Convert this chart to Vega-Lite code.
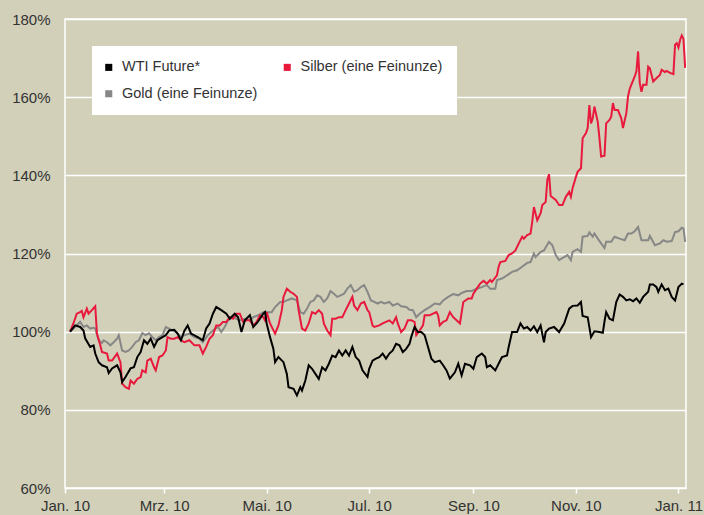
{
  "$schema": "https://vega.github.io/schema/vega-lite/v6.json",
  "width": 621,
  "height": 469,
  "autosize": {"type": "none"},
  "padding": {"left": 65, "top": 19, "right": 18, "bottom": 27},
  "background": "#d2d0b9",
  "view": {"stroke": "#ffffff", "strokeWidth": 1.5},
  "config": {"font": "Liberation Sans"},
  "datasets": {
    "gold": [
      {"d":"2010-01-04","v":100},{"d":"2010-01-07","v":101.2},{"d":"2010-01-09","v":102.1},{"d":"2010-01-10","v":102.5},{"d":"2010-01-12","v":101.2},{"d":"2010-01-14","v":101.6},{"d":"2010-01-16","v":100.8},{"d":"2010-01-18","v":101.0},{"d":"2010-01-19","v":100.8},{"d":"2010-01-21","v":97.8},{"d":"2010-01-23","v":97.1},{"d":"2010-01-24","v":97.8},{"d":"2010-01-26","v":97.3},{"d":"2010-01-28","v":96.5},{"d":"2010-01-30","v":97.3},{"d":"2010-02-01","v":98.2},{"d":"2010-02-02","v":99.1},{"d":"2010-02-04","v":95.2},{"d":"2010-02-06","v":94.8},{"d":"2010-02-08","v":95.2},{"d":"2010-02-10","v":96.1},{"d":"2010-02-12","v":97.3},{"d":"2010-02-14","v":97.8},{"d":"2010-02-16","v":99.6},{"d":"2010-02-18","v":99.1},{"d":"2010-02-20","v":99.6},{"d":"2010-02-22","v":98.6},{"d":"2010-02-24","v":97.8},{"d":"2010-02-26","v":98.6},{"d":"2010-02-28","v":99.1},{"d":"2010-03-02","v":101.2},{"d":"2010-03-04","v":100.8},{"d":"2010-03-06","v":100.3},{"d":"2010-03-08","v":99.9},{"d":"2010-03-11","v":98.6},{"d":"2010-03-13","v":99.1},{"d":"2010-03-16","v":99.5},{"d":"2010-03-19","v":98.6},{"d":"2010-03-22","v":98.2},{"d":"2010-03-24","v":97.3},{"d":"2010-03-27","v":99.1},{"d":"2010-03-30","v":100.3},{"d":"2010-04-02","v":101.2},{"d":"2010-04-04","v":99.9},{"d":"2010-04-06","v":101.2},{"d":"2010-04-08","v":102.9},{"d":"2010-04-11","v":103.7},{"d":"2010-04-13","v":103.3},{"d":"2010-04-15","v":102.9},{"d":"2010-04-18","v":103.3},{"d":"2010-04-21","v":102.9},{"d":"2010-04-23","v":103.7},{"d":"2010-04-26","v":104.2},{"d":"2010-04-29","v":105.0},{"d":"2010-05-02","v":105.0},{"d":"2010-05-04","v":105.0},{"d":"2010-05-06","v":106.3},{"d":"2010-05-09","v":107.6},{"d":"2010-05-11","v":107.6},{"d":"2010-05-13","v":108.0},{"d":"2010-05-16","v":108.5},{"d":"2010-05-19","v":108.0},{"d":"2010-05-21","v":105.0},{"d":"2010-05-23","v":104.6},{"d":"2010-05-25","v":105.9},{"d":"2010-05-27","v":107.6},{"d":"2010-05-29","v":108.0},{"d":"2010-05-31","v":109.3},{"d":"2010-06-02","v":108.9},{"d":"2010-06-04","v":107.6},{"d":"2010-06-06","v":108.5},{"d":"2010-06-08","v":110.4},{"d":"2010-06-10","v":109.7},{"d":"2010-06-12","v":108.9},{"d":"2010-06-14","v":109.3},{"d":"2010-06-16","v":109.7},{"d":"2010-06-18","v":111.0},{"d":"2010-06-20","v":111.9},{"d":"2010-06-22","v":110.2},{"d":"2010-06-24","v":110.6},{"d":"2010-06-26","v":111.4},{"d":"2010-06-28","v":111.9},{"d":"2010-06-30","v":110.2},{"d":"2010-07-02","v":108.0},{"d":"2010-07-04","v":107.6},{"d":"2010-07-06","v":107.2},{"d":"2010-07-08","v":107.6},{"d":"2010-07-10","v":107.2},{"d":"2010-07-13","v":107.6},{"d":"2010-07-15","v":106.7},{"d":"2010-07-18","v":107.2},{"d":"2010-07-20","v":106.5},{"d":"2010-07-23","v":106.3},{"d":"2010-07-25","v":105.6},{"d":"2010-07-27","v":105.5},{"d":"2010-07-29","v":103.7},{"d":"2010-07-31","v":104.6},{"d":"2010-08-03","v":105.5},{"d":"2010-08-06","v":106.3},{"d":"2010-08-09","v":107.2},{"d":"2010-08-12","v":107.0},{"d":"2010-08-14","v":108.0},{"d":"2010-08-17","v":108.9},{"d":"2010-08-20","v":109.6},{"d":"2010-08-23","v":109.3},{"d":"2010-08-25","v":109.9},{"d":"2010-08-28","v":110.4},{"d":"2010-08-31","v":110.4},{"d":"2010-09-03","v":111.0},{"d":"2010-09-06","v":111.4},{"d":"2010-09-09","v":111.9},{"d":"2010-09-11","v":111.0},{"d":"2010-09-14","v":111.0},{"d":"2010-09-15","v":113.2},{"d":"2010-09-18","v":113.6},{"d":"2010-09-21","v":114.4},{"d":"2010-09-24","v":115.3},{"d":"2010-09-27","v":115.7},{"d":"2010-09-30","v":116.6},{"d":"2010-10-03","v":117.6},{"d":"2010-10-05","v":117.8},{"d":"2010-10-07","v":120.0},{"d":"2010-10-08","v":119.1},{"d":"2010-10-11","v":120.4},{"d":"2010-10-13","v":120.8},{"d":"2010-10-16","v":123.0},{"d":"2010-10-18","v":122.1},{"d":"2010-10-20","v":119.6},{"d":"2010-10-22","v":118.3},{"d":"2010-10-25","v":119.1},{"d":"2010-10-27","v":119.6},{"d":"2010-10-29","v":118.3},{"d":"2010-10-30","v":120.4},{"d":"2010-11-02","v":121.1},{"d":"2010-11-04","v":120.4},{"d":"2010-11-05","v":124.3},{"d":"2010-11-08","v":124.5},{"d":"2010-11-09","v":125.4},{"d":"2010-11-11","v":124.3},{"d":"2010-11-12","v":125.1},{"d":"2010-11-14","v":123.8},{"d":"2010-11-16","v":122.6},{"d":"2010-11-18","v":121.4},{"d":"2010-11-19","v":123.0},{"d":"2010-11-22","v":123.0},{"d":"2010-11-24","v":124.3},{"d":"2010-11-27","v":123.8},{"d":"2010-11-30","v":123.4},{"d":"2010-12-02","v":125.1},{"d":"2010-12-04","v":125.1},{"d":"2010-12-06","v":125.7},{"d":"2010-12-08","v":126.8},{"d":"2010-12-10","v":123.4},{"d":"2010-12-12","v":123.4},{"d":"2010-12-14","v":123.4},{"d":"2010-12-15","v":124.5},{"d":"2010-12-18","v":122.1},{"d":"2010-12-21","v":122.6},{"d":"2010-12-23","v":123.4},{"d":"2010-12-25","v":123.0},{"d":"2010-12-28","v":123.2},{"d":"2010-12-30","v":125.5},{"d":"2011-01-01","v":125.7},{"d":"2011-01-03","v":126.6},{"d":"2011-01-04","v":126.4},{"d":"2011-01-05","v":123.0}
    ],
    "silber": [
      {"d":"2010-01-04","v":100},{"d":"2010-01-06","v":102.1},{"d":"2010-01-08","v":104.6},{"d":"2010-01-10","v":105.0},{"d":"2010-01-11","v":105.3},{"d":"2010-01-12","v":103.7},{"d":"2010-01-14","v":105.9},{"d":"2010-01-15","v":104.6},{"d":"2010-01-17","v":105.5},{"d":"2010-01-19","v":106.5},{"d":"2010-01-20","v":99.5},{"d":"2010-01-22","v":96.5},{"d":"2010-01-23","v":94.8},{"d":"2010-01-26","v":94.4},{"d":"2010-01-27","v":92.6},{"d":"2010-01-29","v":92.6},{"d":"2010-02-01","v":94.4},{"d":"2010-02-03","v":92.2},{"d":"2010-02-04","v":86.7},{"d":"2010-02-06","v":85.8},{"d":"2010-02-08","v":85.4},{"d":"2010-02-09","v":87.5},{"d":"2010-02-11","v":86.7},{"d":"2010-02-13","v":87.9},{"d":"2010-02-15","v":88.4},{"d":"2010-02-16","v":90.1},{"d":"2010-02-18","v":89.6},{"d":"2010-02-19","v":92.6},{"d":"2010-02-21","v":93.1},{"d":"2010-02-23","v":90.9},{"d":"2010-02-24","v":90.1},{"d":"2010-02-26","v":93.5},{"d":"2010-02-28","v":93.9},{"d":"2010-03-02","v":95.2},{"d":"2010-03-03","v":98.6},{"d":"2010-03-05","v":98.2},{"d":"2010-03-07","v":98.2},{"d":"2010-03-09","v":98.6},{"d":"2010-03-11","v":97.8},{"d":"2010-03-13","v":97.3},{"d":"2010-03-16","v":97.8},{"d":"2010-03-19","v":96.5},{"d":"2010-03-22","v":96.5},{"d":"2010-03-24","v":94.4},{"d":"2010-03-26","v":96.1},{"d":"2010-03-28","v":98.2},{"d":"2010-03-30","v":99.1},{"d":"2010-04-01","v":101.6},{"d":"2010-04-03","v":101.6},{"d":"2010-04-05","v":102.5},{"d":"2010-04-07","v":102.5},{"d":"2010-04-09","v":103.7},{"d":"2010-04-11","v":103.3},{"d":"2010-04-13","v":104.6},{"d":"2010-04-15","v":104.6},{"d":"2010-04-17","v":102.5},{"d":"2010-04-19","v":102.9},{"d":"2010-04-21","v":102.9},{"d":"2010-04-23","v":101.6},{"d":"2010-04-25","v":102.5},{"d":"2010-04-27","v":104.2},{"d":"2010-04-29","v":103.7},{"d":"2010-04-30","v":102.9},{"d":"2010-05-01","v":105.0},{"d":"2010-05-03","v":102.1},{"d":"2010-05-06","v":99.5},{"d":"2010-05-08","v":101.6},{"d":"2010-05-10","v":105.5},{"d":"2010-05-11","v":108.9},{"d":"2010-05-13","v":111.0},{"d":"2010-05-15","v":110.2},{"d":"2010-05-17","v":109.7},{"d":"2010-05-19","v":108.9},{"d":"2010-05-20","v":105.5},{"d":"2010-05-22","v":100.8},{"d":"2010-05-24","v":100.3},{"d":"2010-05-26","v":102.1},{"d":"2010-05-28","v":105.0},{"d":"2010-05-30","v":104.6},{"d":"2010-06-01","v":105.5},{"d":"2010-06-03","v":104.6},{"d":"2010-06-04","v":102.1},{"d":"2010-06-06","v":100.3},{"d":"2010-06-08","v":99.1},{"d":"2010-06-09","v":103.3},{"d":"2010-06-11","v":103.3},{"d":"2010-06-13","v":103.7},{"d":"2010-06-15","v":103.7},{"d":"2010-06-17","v":105.5},{"d":"2010-06-19","v":107.2},{"d":"2010-06-21","v":108.9},{"d":"2010-06-22","v":106.7},{"d":"2010-06-24","v":105.5},{"d":"2010-06-26","v":107.2},{"d":"2010-06-28","v":107.6},{"d":"2010-06-30","v":105.5},{"d":"2010-07-01","v":105.0},{"d":"2010-07-03","v":101.6},{"d":"2010-07-04","v":101.2},{"d":"2010-07-07","v":101.6},{"d":"2010-07-09","v":102.1},{"d":"2010-07-11","v":102.5},{"d":"2010-07-13","v":102.9},{"d":"2010-07-15","v":102.1},{"d":"2010-07-17","v":103.7},{"d":"2010-07-18","v":102.1},{"d":"2010-07-20","v":99.9},{"d":"2010-07-22","v":100.8},{"d":"2010-07-24","v":102.9},{"d":"2010-07-26","v":102.9},{"d":"2010-07-28","v":102.5},{"d":"2010-07-29","v":99.1},{"d":"2010-07-31","v":100.3},{"d":"2010-08-02","v":101.6},{"d":"2010-08-03","v":104.2},{"d":"2010-08-06","v":104.2},{"d":"2010-08-08","v":104.6},{"d":"2010-08-10","v":105.0},{"d":"2010-08-11","v":104.2},{"d":"2010-08-12","v":101.6},{"d":"2010-08-14","v":102.5},{"d":"2010-08-16","v":102.9},{"d":"2010-08-18","v":105.0},{"d":"2010-08-20","v":103.7},{"d":"2010-08-22","v":102.9},{"d":"2010-08-24","v":102.1},{"d":"2010-08-26","v":107.6},{"d":"2010-08-29","v":108.5},{"d":"2010-08-31","v":108.5},{"d":"2010-09-01","v":109.7},{"d":"2010-09-03","v":111.0},{"d":"2010-09-05","v":112.3},{"d":"2010-09-07","v":113.0},{"d":"2010-09-09","v":112.3},{"d":"2010-09-11","v":113.2},{"d":"2010-09-12","v":112.7},{"d":"2010-09-15","v":114.4},{"d":"2010-09-16","v":116.6},{"d":"2010-09-17","v":117.8},{"d":"2010-09-20","v":118.1},{"d":"2010-09-22","v":119.6},{"d":"2010-09-24","v":120.0},{"d":"2010-09-26","v":120.8},{"d":"2010-09-28","v":122.6},{"d":"2010-09-30","v":124.3},{"d":"2010-10-01","v":123.8},{"d":"2010-10-03","v":124.7},{"d":"2010-10-05","v":125.1},{"d":"2010-10-06","v":128.1},{"d":"2010-10-07","v":131.9},{"d":"2010-10-09","v":128.5},{"d":"2010-10-11","v":130.3},{"d":"2010-10-12","v":132.4},{"d":"2010-10-14","v":133.2},{"d":"2010-10-15","v":138.8},{"d":"2010-10-16","v":140.3},{"d":"2010-10-17","v":134.7},{"d":"2010-10-20","v":133.7},{"d":"2010-10-22","v":132.4},{"d":"2010-10-24","v":132.4},{"d":"2010-10-26","v":134.5},{"d":"2010-10-28","v":135.8},{"d":"2010-10-29","v":134.5},{"d":"2010-10-30","v":136.7},{"d":"2010-11-01","v":139.6},{"d":"2010-11-02","v":140.9},{"d":"2010-11-04","v":141.8},{"d":"2010-11-05","v":149.5},{"d":"2010-11-07","v":150.8},{"d":"2010-11-08","v":152.1},{"d":"2010-11-09","v":158.0},{"d":"2010-11-10","v":153.3},{"d":"2010-11-11","v":154.6},{"d":"2010-11-12","v":157.6},{"d":"2010-11-14","v":153.7},{"d":"2010-11-15","v":149.5},{"d":"2010-11-16","v":144.8},{"d":"2010-11-18","v":145.0},{"d":"2010-11-19","v":153.3},{"d":"2010-11-21","v":154.2},{"d":"2010-11-22","v":155.0},{"d":"2010-11-23","v":158.5},{"d":"2010-11-24","v":156.7},{"d":"2010-11-26","v":156.7},{"d":"2010-11-28","v":154.6},{"d":"2010-11-29","v":152.1},{"d":"2010-12-01","v":155.9},{"d":"2010-12-02","v":160.2},{"d":"2010-12-03","v":162.1},{"d":"2010-12-04","v":163.2},{"d":"2010-12-06","v":165.3},{"d":"2010-12-07","v":166.6},{"d":"2010-12-08","v":171.7},{"d":"2010-12-09","v":163.6},{"d":"2010-12-10","v":161.4},{"d":"2010-12-11","v":163.2},{"d":"2010-12-13","v":163.2},{"d":"2010-12-14","v":167.8},{"d":"2010-12-15","v":167.4},{"d":"2010-12-17","v":164.0},{"d":"2010-12-19","v":164.9},{"d":"2010-12-21","v":165.7},{"d":"2010-12-22","v":167.0},{"d":"2010-12-24","v":166.4},{"d":"2010-12-25","v":166.7},{"d":"2010-12-27","v":166.2},{"d":"2010-12-29","v":165.9},{"d":"2010-12-30","v":173.4},{"d":"2010-12-31","v":173.8},{"d":"2011-01-01","v":172.7},{"d":"2011-01-02","v":174.7},{"d":"2011-01-03","v":175.8},{"d":"2011-01-04","v":174.9},{"d":"2011-01-05","v":167.5}
    ],
    "wti": [
      {"d":"2010-01-04","v":100},{"d":"2010-01-07","v":101.6},{"d":"2010-01-10","v":101.2},{"d":"2010-01-12","v":100.3},{"d":"2010-01-13","v":98.3},{"d":"2010-01-16","v":96.1},{"d":"2010-01-18","v":96.5},{"d":"2010-01-19","v":94.4},{"d":"2010-01-21","v":92.2},{"d":"2010-01-23","v":91.4},{"d":"2010-01-26","v":90.9},{"d":"2010-01-27","v":89.4},{"d":"2010-01-29","v":90.6},{"d":"2010-02-01","v":91.4},{"d":"2010-02-03","v":89.6},{"d":"2010-02-04","v":87.1},{"d":"2010-02-06","v":88.4},{"d":"2010-02-09","v":90.6},{"d":"2010-02-11","v":90.9},{"d":"2010-02-13","v":93.5},{"d":"2010-02-15","v":94.8},{"d":"2010-02-17","v":97.8},{"d":"2010-02-19","v":96.9},{"d":"2010-02-21","v":98.2},{"d":"2010-02-23","v":96.1},{"d":"2010-02-25","v":97.8},{"d":"2010-02-28","v":98.6},{"d":"2010-03-02","v":99.1},{"d":"2010-03-04","v":100.3},{"d":"2010-03-07","v":100.5},{"d":"2010-03-09","v":99.5},{"d":"2010-03-11","v":97.8},{"d":"2010-03-13","v":100.2},{"d":"2010-03-15","v":101.6},{"d":"2010-03-17","v":99.5},{"d":"2010-03-21","v":98.6},{"d":"2010-03-24","v":97.8},{"d":"2010-03-26","v":100.8},{"d":"2010-03-28","v":102.1},{"d":"2010-03-30","v":104.6},{"d":"2010-04-01","v":106.3},{"d":"2010-04-04","v":105.5},{"d":"2010-04-07","v":104.6},{"d":"2010-04-09","v":103.3},{"d":"2010-04-12","v":104.6},{"d":"2010-04-14","v":103.7},{"d":"2010-04-16","v":99.9},{"d":"2010-04-18","v":102.9},{"d":"2010-04-21","v":104.2},{"d":"2010-04-23","v":101.2},{"d":"2010-04-25","v":102.1},{"d":"2010-04-27","v":103.3},{"d":"2010-04-29","v":104.6},{"d":"2010-04-30","v":105.0},{"d":"2010-05-01","v":102.1},{"d":"2010-05-03","v":98.6},{"d":"2010-05-05","v":95.6},{"d":"2010-05-06","v":92.2},{"d":"2010-05-08","v":93.5},{"d":"2010-05-11","v":92.2},{"d":"2010-05-13","v":89.2},{"d":"2010-05-14","v":85.8},{"d":"2010-05-17","v":85.4},{"d":"2010-05-19","v":83.7},{"d":"2010-05-21","v":85.8},{"d":"2010-05-22","v":84.9},{"d":"2010-05-24","v":87.5},{"d":"2010-05-26","v":91.4},{"d":"2010-05-28","v":90.5},{"d":"2010-05-30","v":89.2},{"d":"2010-06-01","v":87.9},{"d":"2010-06-03","v":90.9},{"d":"2010-06-05","v":90.1},{"d":"2010-06-07","v":91.8},{"d":"2010-06-09","v":93.9},{"d":"2010-06-11","v":93.5},{"d":"2010-06-13","v":95.2},{"d":"2010-06-15","v":93.9},{"d":"2010-06-17","v":95.2},{"d":"2010-06-19","v":93.9},{"d":"2010-06-21","v":96.1},{"d":"2010-06-23","v":93.5},{"d":"2010-06-25","v":92.6},{"d":"2010-06-27","v":90.1},{"d":"2010-06-30","v":88.4},{"d":"2010-07-01","v":90.5},{"d":"2010-07-03","v":92.6},{"d":"2010-07-05","v":93.1},{"d":"2010-07-07","v":93.5},{"d":"2010-07-09","v":94.4},{"d":"2010-07-11","v":93.1},{"d":"2010-07-13","v":94.4},{"d":"2010-07-15","v":95.2},{"d":"2010-07-17","v":96.9},{"d":"2010-07-19","v":96.5},{"d":"2010-07-21","v":94.8},{"d":"2010-07-23","v":95.6},{"d":"2010-07-25","v":96.9},{"d":"2010-07-26","v":98.6},{"d":"2010-07-28","v":101.2},{"d":"2010-07-30","v":99.9},{"d":"2010-08-01","v":99.9},{"d":"2010-08-03","v":99.1},{"d":"2010-08-05","v":96.1},{"d":"2010-08-07","v":93.1},{"d":"2010-08-09","v":92.2},{"d":"2010-08-12","v":92.6},{"d":"2010-08-14","v":91.4},{"d":"2010-08-16","v":90.1},{"d":"2010-08-18","v":88.0},{"d":"2010-08-21","v":89.6},{"d":"2010-08-23","v":91.8},{"d":"2010-08-25","v":88.8},{"d":"2010-08-27","v":91.8},{"d":"2010-08-30","v":91.4},{"d":"2010-09-01","v":90.5},{"d":"2010-09-03","v":93.5},{"d":"2010-09-06","v":94.4},{"d":"2010-09-08","v":93.5},{"d":"2010-09-09","v":90.9},{"d":"2010-09-11","v":91.4},{"d":"2010-09-14","v":90.1},{"d":"2010-09-16","v":91.8},{"d":"2010-09-18","v":93.5},{"d":"2010-09-21","v":93.9},{"d":"2010-09-22","v":96.1},{"d":"2010-09-24","v":99.9},{"d":"2010-09-27","v":99.9},{"d":"2010-09-29","v":102.1},{"d":"2010-10-01","v":100.8},{"d":"2010-10-03","v":101.2},{"d":"2010-10-05","v":100.3},{"d":"2010-10-07","v":101.4},{"d":"2010-10-09","v":99.9},{"d":"2010-10-11","v":101.6},{"d":"2010-10-13","v":97.3},{"d":"2010-10-14","v":99.9},{"d":"2010-10-16","v":100.8},{"d":"2010-10-19","v":101.2},{"d":"2010-10-22","v":99.9},{"d":"2010-10-25","v":102.1},{"d":"2010-10-28","v":105.9},{"d":"2010-10-30","v":106.6},{"d":"2010-11-02","v":106.7},{"d":"2010-11-04","v":107.6},{"d":"2010-11-05","v":104.0},{"d":"2010-11-08","v":103.7},{"d":"2010-11-10","v":98.6},{"d":"2010-11-12","v":100.1},{"d":"2010-11-15","v":99.9},{"d":"2010-11-17","v":99.7},{"d":"2010-11-18","v":102.6},{"d":"2010-11-19","v":105.0},{"d":"2010-11-21","v":103.3},{"d":"2010-11-23","v":102.9},{"d":"2010-11-25","v":107.6},{"d":"2010-11-27","v":109.5},{"d":"2010-11-29","v":108.9},{"d":"2010-12-01","v":108.0},{"d":"2010-12-03","v":108.3},{"d":"2010-12-05","v":107.8},{"d":"2010-12-07","v":108.5},{"d":"2010-12-09","v":107.4},{"d":"2010-12-11","v":108.9},{"d":"2010-12-14","v":110.2},{"d":"2010-12-15","v":112.1},{"d":"2010-12-17","v":112.1},{"d":"2010-12-19","v":111.4},{"d":"2010-12-20","v":110.2},{"d":"2010-12-22","v":112.1},{"d":"2010-12-24","v":110.6},{"d":"2010-12-26","v":111.0},{"d":"2010-12-28","v":108.9},{"d":"2010-12-30","v":108.0},{"d":"2011-01-01","v":111.4},{"d":"2011-01-03","v":112.3},{"d":"2011-01-04","v":112.1}
    ]
  },
  "layer": [
    {
      "data": {"name": "gold"},
      "mark": {"type": "line", "strokeWidth": 2, "clip": true},
      "encoding": {
        "x": {
          "field": "d", "type": "temporal",
          "scale": {"type": "utc", "domain": [{"year": 2010, "month": 1, "date": 1, "utc": true}, {"year": 2011, "month": 1, "date": 5, "hours": 12, "utc": true}]},
          "axis": {
            "title": null,
            "values": [
              {"year": 2010, "month": 1, "date": 1, "utc": true},
              {"year": 2010, "month": 3, "date": 1, "utc": true},
              {"year": 2010, "month": 5, "date": 1, "utc": true},
              {"year": 2010, "month": 7, "date": 1, "utc": true},
              {"year": 2010, "month": 9, "date": 1, "utc": true},
              {"year": 2010, "month": 11, "date": 1, "utc": true},
              {"year": 2011, "month": 1, "date": 1, "utc": true}
            ],
            "labelExpr": "['Jan.','Feb.','Mrz.','Apr.','Mai.','Jun.','Jul.','Aug.','Sep.','Okt.','Nov.','Dez.'][utcmonth(datum.value)] + ' ' + utcFormat(datum.value, '%y')",
            "grid": false, "domain": false,
            "ticks": true, "tickColor": "#ffffff", "tickWidth": 1.5, "tickSize": 5,
            "labelFontSize": 15, "labelColor": "#333333", "labelPadding": 5,
            "labelFlush": false, "labelOverlap": false
          }
        },
        "y": {
          "field": "v", "type": "quantitative",
          "scale": {"domain": [60, 180], "nice": false, "zero": false},
          "axis": {
            "title": null,
            "values": [60, 80, 100, 120, 140, 160, 180],
            "labelExpr": "datum.value + '%'",
            "grid": true, "gridColor": "#ffffff", "gridWidth": 1.5, "gridOpacity": 1,
            "domain": false, "ticks": false,
            "labelPadding": 15, "labelFontSize": 15, "labelColor": "#333333"
          }
        },
        "color": {"datum": "Gold (eine Feinunze)", "type": "nominal"}
      }
    },
    {
      "data": {"name": "silber"},
      "mark": {"type": "line", "strokeWidth": 2, "clip": true},
      "encoding": {
        "x": {"field": "d", "type": "temporal"},
        "y": {"field": "v", "type": "quantitative"},
        "color": {"datum": "Silber (eine Feinunze)", "type": "nominal"}
      }
    },
    {
      "data": {"name": "wti"},
      "mark": {"type": "line", "strokeWidth": 2, "clip": true},
      "encoding": {
        "x": {"field": "d", "type": "temporal"},
        "y": {"field": "v", "type": "quantitative"},
        "color": {
          "datum": "WTI Future*", "type": "nominal",
          "scale": {"domain": ["WTI Future*", "Silber (eine Feinunze)", "Gold (eine Feinunze)"], "range": ["#000000", "#e8193c", "#878787"]},
          "legend": {
            "title": null, "orient": "none", "legendX": 27, "legendY": 27,
            "direction": "horizontal",
            "columns": 2, "columnPadding": 25.5, "rowPadding": 11.5, "padding": 14,
            "fillColor": "#ffffff", "symbolType": "square", "symbolSize": 50, "symbolStrokeWidth": 0,
            "symbolOffset": -4.5,
            "labelFontSize": 14.5, "labelColor": "#333333", "labelOffset": 6, "labelLimit": 300,
            "encode": {"symbols": {"update": {"fill": {"scale": "color", "field": "value"}, "strokeWidth": {"value": 0}, "opacity": {"value": 1}}}}
          }
        }
      }
    }
  ]
}
